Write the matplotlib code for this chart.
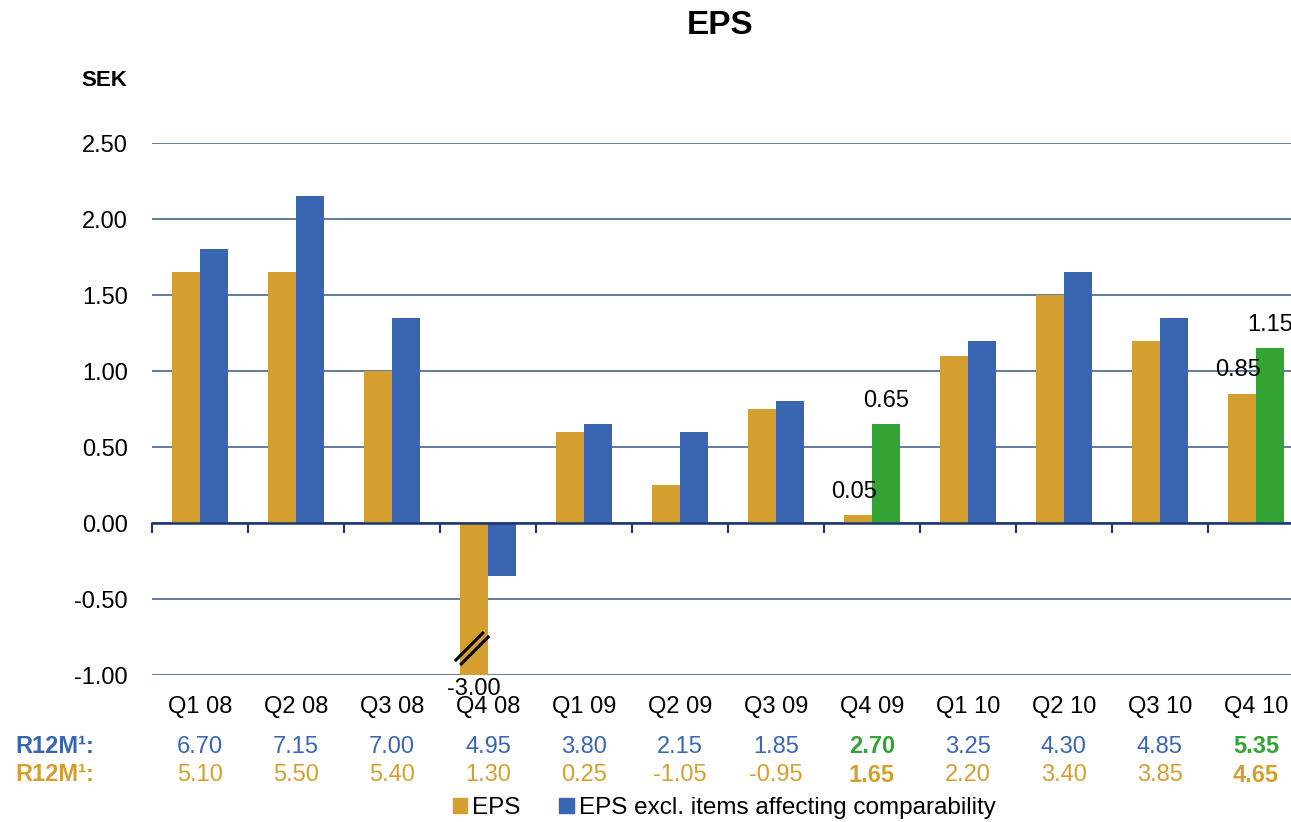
import numpy as np
import matplotlib
matplotlib.use("Agg")
import matplotlib.pyplot as plt
from matplotlib.patches import Patch
from matplotlib.ticker import FixedLocator

# chart data
quarters = ["Q1 08", "Q2 08", "Q3 08", "Q4 08", "Q1 09", "Q2 09",
            "Q3 09", "Q4 09", "Q1 10", "Q2 10", "Q3 10", "Q4 10"]
eps = [1.65, 1.65, 1.00, -3.00, 0.60, 0.25, 0.75, 0.05, 1.10, 1.50, 1.20, 0.85]
eps_excl = [1.80, 2.15, 1.35, -0.35, 0.65, 0.60, 0.80, 0.65, 1.20, 1.65, 1.35, 1.15]
r12m_excl = [6.70, 7.15, 7.00, 4.95, 3.80, 2.15, 1.85, 2.70, 3.25, 4.30, 4.85, 5.35]
r12m_eps = [5.10, 5.50, 5.40, 1.30, 0.25, -1.05, -0.95, 1.65, 2.20, 3.40, 3.85, 4.65]
highlight = [7, 11]      # full-year quarters shown in green / bold
labelled = [7, 11]       # bars with value labels
broken = 3               # EPS bar cut off at the axis

ORANGE = "#D49F2F"
BLUE = "#3866B0"
GREEN = "#33A333"
GRID = "#45638F"
NAVY = "#1C3672"

plt.rcParams["font.family"] = ["Liberation Sans", "DejaVu Sans"]
plt.rcParams["font.size"] = 17

fig = plt.figure(figsize=(12.91, 8.22), dpi=100)
ax = fig.add_axes([0.1177, 0.1788, 0.8923, 0.6472])

x = np.arange(len(quarters))
w = 0.29
excl_colors = [GREEN if i in highlight else BLUE for i in x]
ax.bar(x - w / 2, eps, w, color=ORANGE, zorder=2)
ax.bar(x + w / 2, eps_excl, w, color=excl_colors, zorder=2)

ax.set_xlim(-0.5, len(quarters) - 0.5)
ax.set_ylim(-1.0, 2.5)
ax.set_yticks(np.arange(-1.0, 2.51, 0.5))
ax.set_yticklabels(["%.2f" % v for v in np.arange(-1.0, 2.51, 0.5)])
ax.yaxis.grid(True, color=GRID, lw=1.2)
ax.set_axisbelow(True)
ax.tick_params(axis="y", length=0, pad=17.5)

for s in ["top", "right", "left"]:
    ax.spines[s].set_visible(False)
ax.spines["bottom"].set_position(("data", 0))
ax.spines["bottom"].set_color(NAVY)
ax.spines["bottom"].set_linewidth(1.8)
ax.set_xticks([])
ax.xaxis.set_minor_locator(FixedLocator(np.arange(-0.5, len(quarters), 1.0)))
ax.tick_params(axis="x", which="minor", length=7, width=1.5, color=NAVY, direction="out")

trans = ax.get_xaxis_transform()
for i, q in enumerate(quarters):
    ax.text(i, -0.06, q, transform=trans, ha="center", va="center", clip_on=False)
    bold = "bold" if i in highlight else "normal"
    ax.text(i, -0.135, "%.2f" % r12m_excl[i], transform=trans, ha="center", va="center",
            color=GREEN if i in highlight else BLUE, fontweight=bold, clip_on=False)
    ax.text(i, -0.188, "%.2f" % r12m_eps[i], transform=trans, ha="center", va="center",
            color=ORANGE, fontweight=bold, clip_on=False)

# value labels
for i in labelled:
    ax.annotate("%.2f" % eps[i], (i - w / 2, eps[i]), xytext=(-3, 17),
                textcoords="offset points", ha="center", va="center")
    ax.annotate("%.2f" % eps_excl[i], (i + w / 2, eps_excl[i]), xytext=(0, 17),
                textcoords="offset points", ha="center", va="center")
ax.annotate("%.2f" % eps[broken], (broken - w / 2, -1.0), xytext=(0, -10),
            textcoords="offset points", ha="center", va="center", annotation_clip=False)

# break marks on the cut bar
for dx, dy in [(0, 0), (0.055, -0.026)]:
    ax.plot([broken - 0.344 + dx, broken - 0.042 + dx], [-0.908 + dy, -0.717 + dy],
            color="black", lw=2.2, zorder=3, solid_capstyle="butt")

fig.text(0.012, 1 - 746 / 822, "R12M\u00b9:", color=BLUE, fontweight="bold", va="center")
fig.text(0.012, 1 - 774 / 822, "R12M\u00b9:", color=ORANGE, fontweight="bold", va="center")

fig.text(0.558, 1 - 25 / 822, "EPS", fontsize=24, fontweight="bold", ha="center", va="center")
fig.text(0.081, 1 - 80 / 822, "SEK", fontsize=16, fontweight="bold", ha="center", va="center")

handles = [Patch(color=ORANGE, label="EPS"),
           Patch(color=BLUE, label="EPS excl. items affecting comparability")]
fig.legend(handles=handles, loc="center", bbox_to_anchor=(0.561, 1 - 808 / 822), ncol=2,
           frameon=False, handlelength=0.6, handleheight=0.6, handletextpad=0.2,
           columnspacing=1.6, fontsize=17.5, borderaxespad=0)

fig.savefig("out.png", dpi=100)
